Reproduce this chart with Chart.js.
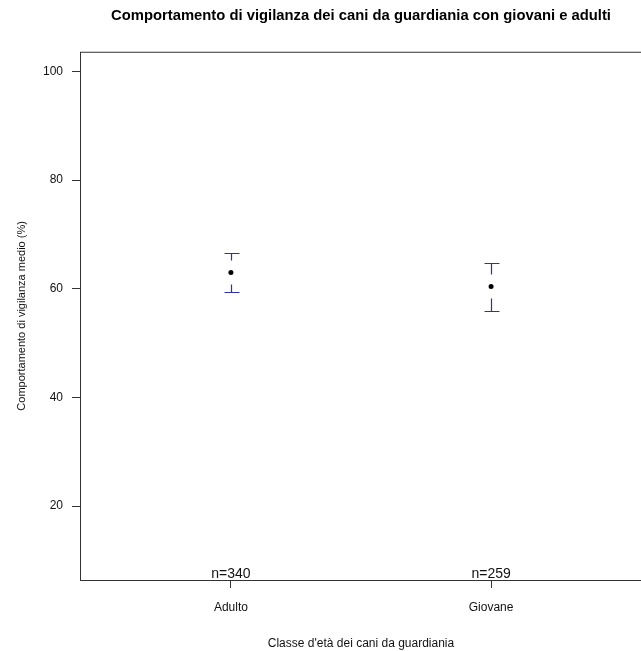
<!DOCTYPE html>
<html>
<head>
<meta charset="utf-8">
<script src="https://cdn.jsdelivr.net/npm/chart.js@4"></script>
<style>
  html, body { margin: 0; padding: 0; background: #fff; overflow: hidden; width: 641px; height: 651px; }
  canvas { display: block; }
</style>
</head>
<body>
<canvas id="grafico" width="660" height="651"></canvas>
<script>
const classi = ["Adulto", "Giovane"];
const medie = [63.0, 60.4];
const limiteInf = [59.4, 55.9];
const limiteSup = [66.6, 64.8];
const numerosita = [340, 259];
const tickY = [20, 40, 60, 80, 100];

const FONT = "'Liberation Sans', Arial, sans-serif";

// barre d'errore, riquadro e etichette n=
const extraPlot = {
  id: "extraPlot",
  beforeDatasetsDraw(chart) {
    const { ctx, scales: { x, y } } = chart;
    ctx.save();
    ctx.strokeStyle = "#2f2fb0";
    ctx.lineWidth = 1.2;
    classi.forEach((c, i) => {
      const px = Math.round(x.getPixelForValue(i + 1)) + 0.5;
      const pm = y.getPixelForValue(medie[i]);
      const pSup = Math.round(y.getPixelForValue(limiteSup[i])) + 0.5;
      const pInf = Math.round(y.getPixelForValue(limiteInf[i])) + 0.5;
      ctx.beginPath();
      ctx.moveTo(px, pSup);
      ctx.lineTo(px, pm - 12);
      ctx.moveTo(px, pm + 12);
      ctx.lineTo(px, pInf);
      ctx.moveTo(px - 7, pSup);
      ctx.lineTo(px + 8, pSup);
      ctx.moveTo(px - 7, pInf);
      ctx.lineTo(px + 8, pInf);
      ctx.stroke();
    });
    ctx.restore();
  },
  afterDraw(chart) {
    const { ctx, chartArea: a, scales: { x } } = chart;
    ctx.save();
    ctx.strokeStyle = "#333";
    ctx.lineWidth = 1;
    ctx.strokeRect(a.left + 0.5, a.top + 0.5, a.right - a.left, a.bottom - a.top);

    ctx.fillStyle = "#111";
    ctx.font = "14px " + FONT;
    ctx.textAlign = "center";
    ctx.textBaseline = "alphabetic";
    numerosita.forEach((n, i) => {
      ctx.fillText("n=" + n, x.getPixelForValue(i + 1), a.bottom - 2);
    });
    ctx.restore();
  },
};

new Chart(document.getElementById("grafico"), {
  type: "scatter",
  data: {
    datasets: [
      {
        data: classi.map((c, i) => ({ x: i + 1, y: medie[i] })),
        backgroundColor: "#000",
        borderWidth: 0,
        pointRadius: 2.5,
      },
    ],
  },
  options: {
    responsive: false,
    animation: false,
    devicePixelRatio: 1,
    layout: { padding: { left: 0, right: 18, top: 0, bottom: 0 } },
    plugins: {
      legend: { display: false },
      tooltip: { enabled: false },
      title: {
        display: true,
        fullSize: false,
        text: "Comportamento di vigilanza dei cani da guardiania con giovani e adulti",
        color: "#000",
        font: { family: FONT, size: 14.8, weight: "bold", lineHeight: 1.2 },
        padding: { top: 7, bottom: 27 },
      },
    },
    scales: {
      x: {
        type: "linear",
        min: 0.42,
        max: 2.58,
        afterBuildTicks: (s) => {
          s.ticks = classi.map((c, i) => ({ value: i + 1 }));
        },
        afterFit: (s) => {
          s.height = 71;
        },
        ticks: {
          callback: (v) => classi[v - 1] ?? "",
          color: "#111",
          font: { family: FONT, size: 12 },
          padding: 12,
          maxRotation: 0,
        },
        grid: { drawOnChartArea: false, drawTicks: true, tickLength: 8, color: "#333", tickColor: "#333" },
        border: { display: false },
        title: {
          display: true,
          text: "Classe d'età dei cani da guardiania",
          color: "#111",
          font: { family: FONT, size: 12, lineHeight: 1.2 },
          padding: { top: 0, bottom: 0 },
        },
      },
      y: {
        type: "linear",
        min: 6.4,
        max: 103.6,
        afterBuildTicks: (s) => {
          s.ticks = tickY.map((v) => ({ value: v }));
        },
        afterFit: (s) => {
          s.width = 80;
        },
        ticks: {
          color: "#111",
          font: { family: FONT, size: 12 },
          padding: 9,
        },
        grid: { drawOnChartArea: false, drawTicks: true, tickLength: 8, color: "#333", tickColor: "#333" },
        border: { display: false },
        title: {
          display: true,
          text: "Comportamento di vigilanza medio (%)",
          color: "#111",
          font: { family: FONT, size: 11, lineHeight: 1.2 },
          padding: { top: 15, bottom: 0 },
        },
      },
    },
  },
  plugins: [extraPlot],
});
</script>
</body>
</html>
